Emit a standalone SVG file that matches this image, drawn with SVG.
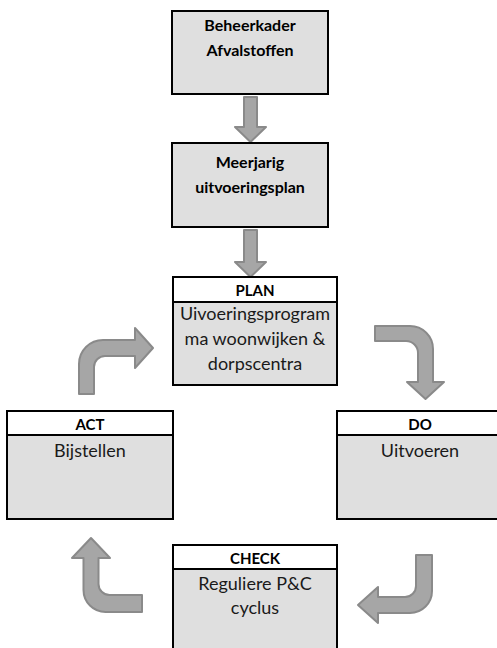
<svg xmlns="http://www.w3.org/2000/svg" width="497" height="648" viewBox="0 0 497 648">
<style>
.box{fill:#dfdfdf;stroke:#000;stroke-width:2}
.hdr{fill:#fff;stroke:#000;stroke-width:2}
.t{font-family:Lato,"Liberation Sans",sans-serif;font-size:18px;fill:#1a1a1a;text-anchor:middle}
.b{font-family:Lato,"Liberation Sans",sans-serif;font-size:16px;font-weight:bold;fill:#000;text-anchor:middle}
.h{font-family:Lato,"Liberation Sans",sans-serif;font-size:15px;font-weight:bold;fill:#000;text-anchor:middle}
.arr{fill:#a6a6a6;stroke:#8a8a8a;stroke-width:2;stroke-linejoin:round}
</style>
<rect width="497" height="648" fill="#fff"/>
<g id="connectors">
<path class="arr" d="M244,97 H257 V127 H266 L250.5,142 L235,127 H244 Z"/>
<path class="arr" d="M244,230 H257 V262 H266 L250.5,277 L235,262 H244 Z"/>
<path class="arr" d="M79,394 V364 A24,24 0 0 1 103,340 H135 V328 L153,348 L135,368 V356 H105 A11,11 0 0 0 94,367 V394 Z"/>
<path class="arr" d="M375,326 H410 A23,23 0 0 1 433,349 V382 H444 L425.5,399 L407,382 H418 V353 A12,12 0 0 0 406,341 H375 Z"/>
<path class="arr" d="M91,538 L110,558 H98.5 V584 A11,11 0 0 0 109.5,595 H142 V612 H105.5 A22,22 0 0 1 83.5,590 V558 H72 Z"/>
<path class="arr" d="M416,555 H432 V591 A22,22 0 0 1 410,613 H378 V623 L358,605 L378,587 V597 H405 A11,11 0 0 0 416,586 Z"/>
</g>
<g id="beheerkader">
<rect class="box" x="172" y="11" width="156" height="83"/>
<text class="b" x="250" y="31">Beheerkader</text>
<text class="b" x="250" y="56">Afvalstoffen</text>
</g>
<g id="meerjarig">
<rect class="box" x="172" y="143" width="156" height="84"/>
<text class="b" x="250" y="168">Meerjarig</text>
<text class="b" x="250" y="193">uitvoeringsplan</text>
</g>
<g id="plan">
<rect class="box" x="173" y="277" width="164" height="108"/>
<rect class="hdr" x="173" y="277" width="164" height="25"/>
<text class="h" x="255" y="296">PLAN</text>
<text class="t" x="255" y="320">Uivoeringsprogram</text>
<text class="t" x="255" y="345">ma woonwijken &amp;</text>
<text class="t" x="255" y="370">dorpscentra</text>
</g>
<g id="act">
<rect class="box" x="7" y="411" width="166" height="108"/>
<rect class="hdr" x="7" y="411" width="166" height="24"/>
<text class="h" x="90" y="430">ACT</text>
<text class="t" x="90" y="457">Bijstellen</text>
</g>
<g id="do">
<rect class="box" x="337" y="411" width="166" height="108"/>
<rect class="hdr" x="337" y="411" width="166" height="24"/>
<text class="h" x="420" y="430">DO</text>
<text class="t" x="420" y="457">Uitvoeren</text>
</g>
<g id="check">
<rect class="box" x="173" y="545" width="164" height="110"/>
<rect class="hdr" x="173" y="545" width="164" height="24"/>
<text class="h" x="255" y="564">CHECK</text>
<text class="t" x="255" y="590">Reguliere P&amp;C</text>
<text class="t" x="255" y="614">cyclus</text>
</g>
</svg>
